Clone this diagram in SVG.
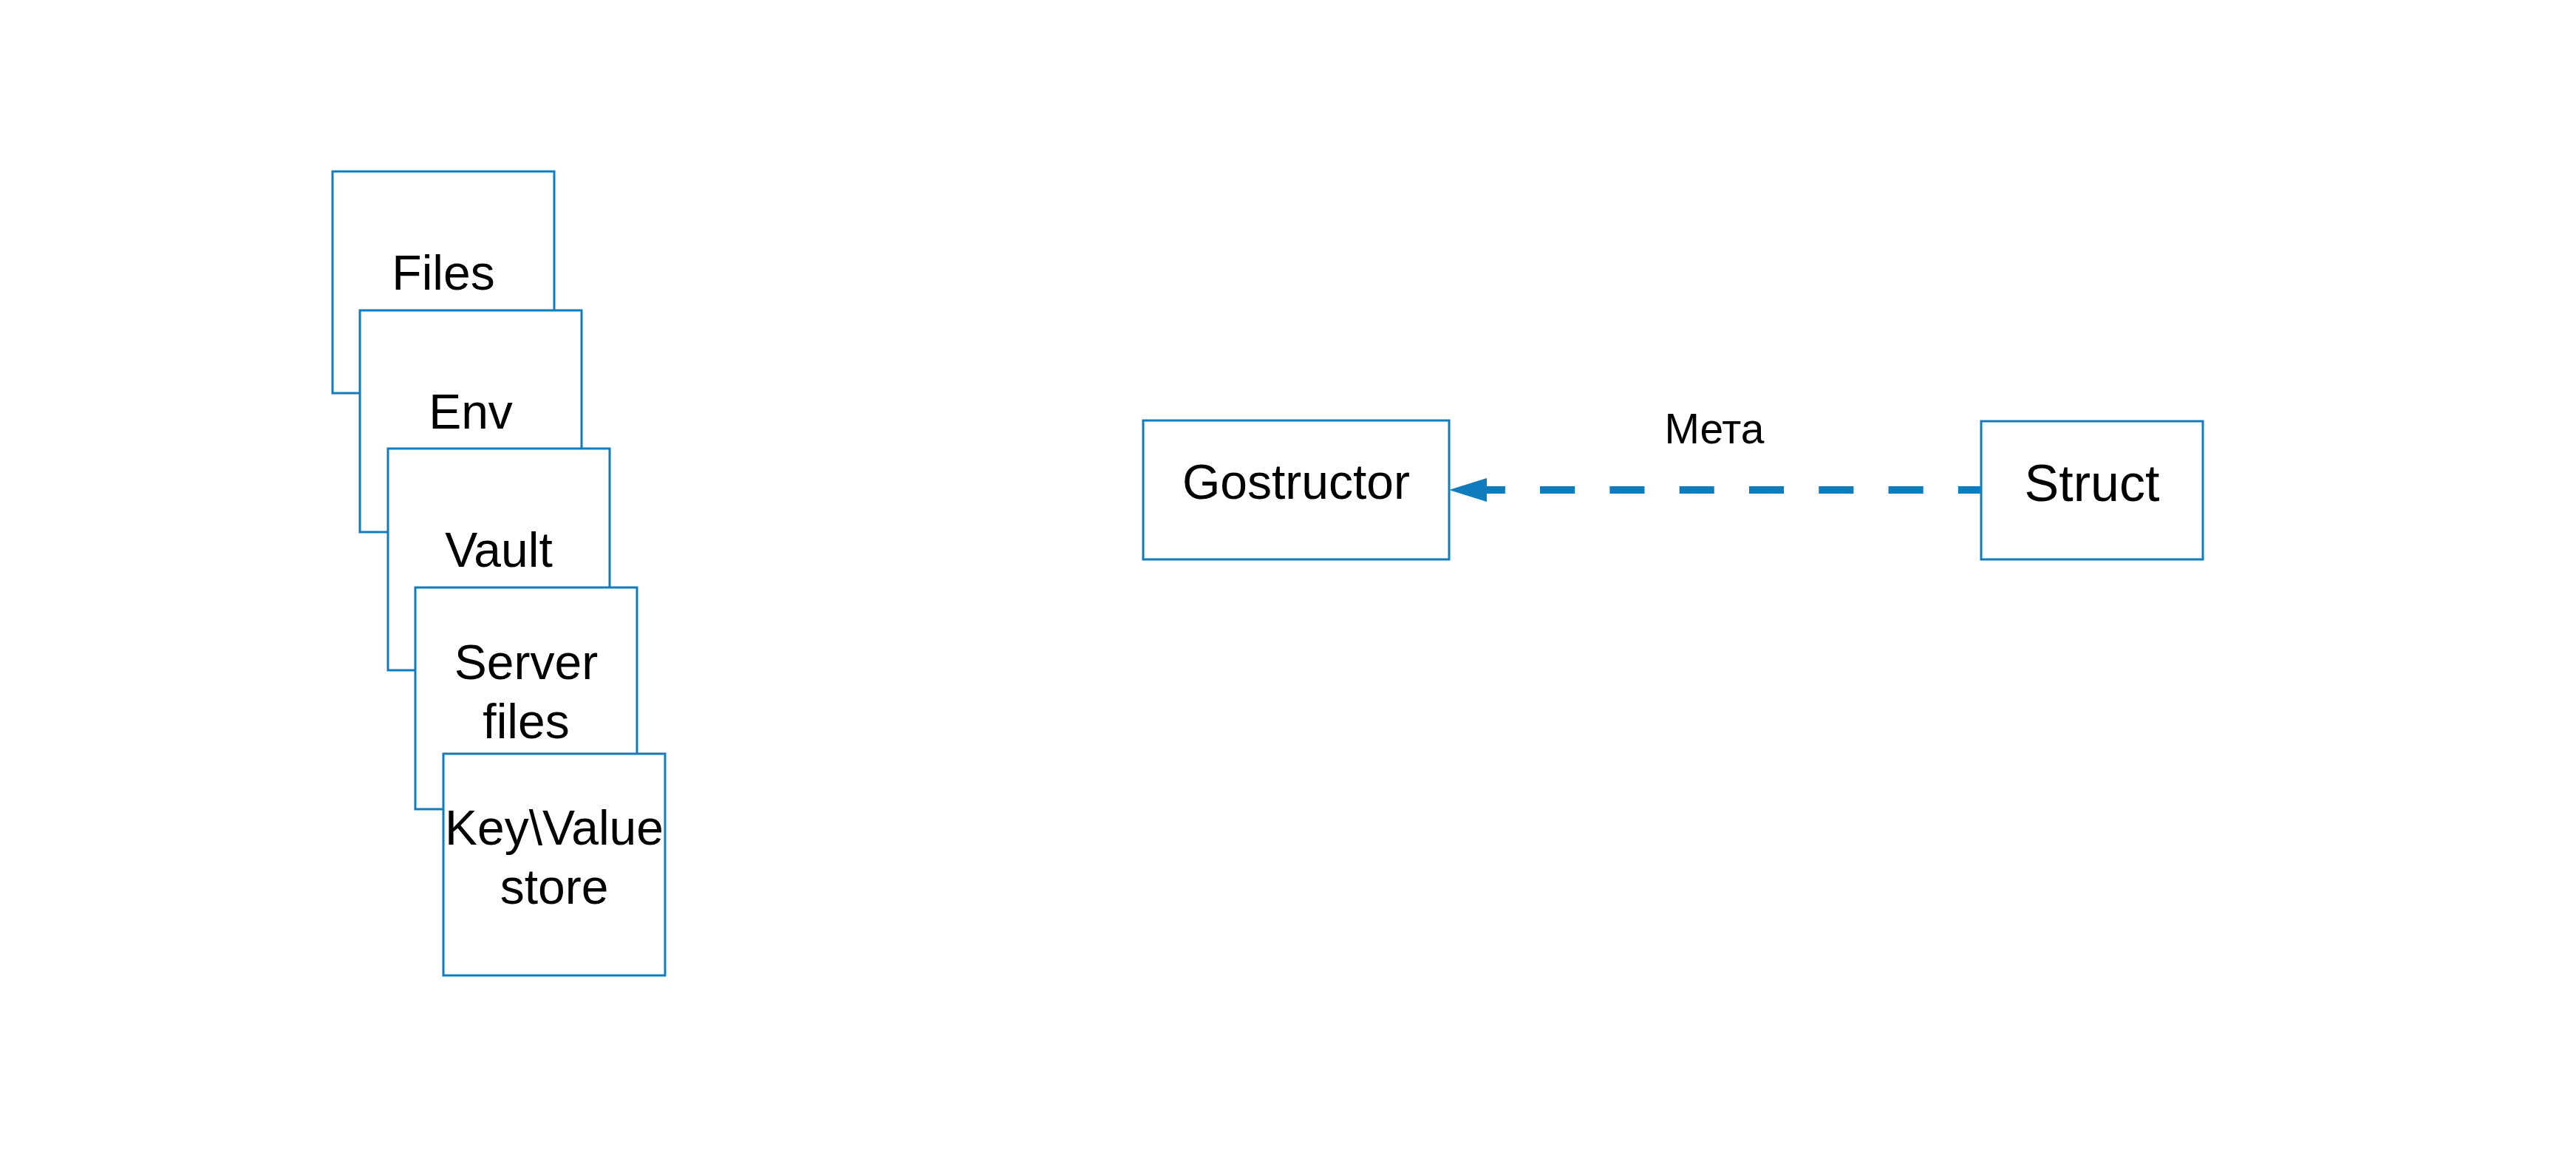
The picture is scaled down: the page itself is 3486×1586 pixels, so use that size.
<svg xmlns="http://www.w3.org/2000/svg" width="3486" height="1586" viewBox="0 0 3486 1586">
<style>
.box{fill:#ffffff;stroke:#0f7cbd;stroke-width:3}
.lbl{font-family:"Liberation Sans",Arial,sans-serif;font-size:66px;fill:#000;text-anchor:middle}
.edge{fill:none;stroke:#0f7cbd;stroke-width:10;stroke-dasharray:47.15 47.15;stroke-dashoffset:17}
.elbl{font-family:"Liberation Sans",Arial,sans-serif;font-size:57px;fill:#000;text-anchor:middle}
</style>
<defs>
<marker id="ah" markerUnits="userSpaceOnUse" markerWidth="60" markerHeight="40" viewBox="0 -20 60 40" refX="0" refY="0" orient="auto">
<path d="M0,-16 L51,0 L0,16 Z" fill="#0f7cbd"/>
</marker>
</defs>
<rect width="3486" height="1586" fill="#ffffff"/>
<g id="files"><rect class="box" x="450" y="232" width="300" height="300"/><text class="lbl" x="600" y="392">Files</text></g>
<g id="env"><rect class="box" x="487" y="420" width="300" height="300"/><text class="lbl" x="637" y="580">Env</text></g>
<g id="vault"><rect class="box" x="525" y="607" width="300" height="300"/><text class="lbl" x="675" y="767">Vault</text></g>
<g id="server-files"><rect class="box" x="562" y="795" width="300" height="300"/><text class="lbl" x="712" y="919">Server</text><text class="lbl" x="712" y="999">files</text></g>
<g id="kv-store"><rect class="box" x="600" y="1020" width="300" height="300"/><text class="lbl" x="750" y="1143">Key\Value</text><text class="lbl" x="750" y="1223">store</text></g>
<g id="gostructor"><rect class="box" x="1547" y="569" width="414" height="188"/><text class="lbl" x="1754" y="675">Gostructor</text></g>
<g id="struct"><rect class="box" x="2681" y="570" width="300" height="187"/><text class="lbl" x="2831" y="678" style="font-size:70px">Struct</text></g>
<g id="connectors">
<path class="edge" d="M2680,663 L2012,663" marker-end="url(#ah)"/>
<text class="elbl" x="2320" y="600">Мета</text>
</g>
</svg>
